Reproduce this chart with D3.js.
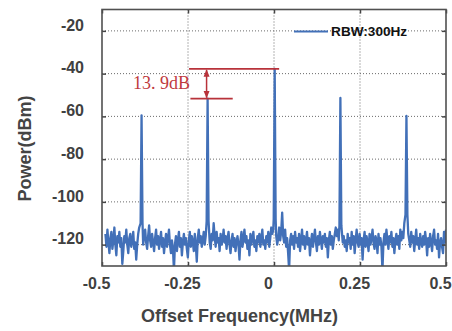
<!DOCTYPE html>
<html>
<head>
<meta charset="utf-8">
<script src="https://cdn.jsdelivr.net/npm/d3@7"></script>
<style>
  body { margin: 0; background: #fff; }
  svg { display: block; }
</style>
</head>
<body>
<div id="graph"></div>
<script>
// spectrum data
var xTicks = [-0.5, -0.25, 0, 0.25, 0.5];
var xTickLabels = ["-0.5", "-0.25", "0", "0.25", "0.5"];
var yTicks = [-20, -40, -60, -80, -100, -120];
var yTickLabels = ["-20", "-40", "-60", "-80", "-100", "-120"];

// noise floor samples, evenly spaced from noiseStart to noiseEnd (MHz)
var noiseStart = -0.49;
var noiseEnd = 0.5;
var noiseLevel = [
  -115, -121, -113, -119, -124, -117, -114, -122, -118, -112, -120, -125, -116, -119, -114, -121, -117, -129, -123, -116,
  -119, -113, -120, -124, -117, -115, -121, -118, -114, -122, -119, -127, -120, -115, -112, -118, -114, -117, -120, -116,
  -113, -119, -122, -116, -111, -118, -121, -115, -119, -123, -117, -113, -120, -116, -122, -118, -114, -121, -117, -124,
  -119, -115, -121, -117, -113, -120, -124, -118, -122, -132, -120, -116, -123, -118, -114, -121, -117, -125, -119, -115,
  -120, -117, -122, -126, -118, -114, -121, -116, -119, -123, -115, -120, -128, -117, -113, -119, -116, -121, -118, -114,
  -120, -116, -112, -117, -113, -119, -122, -115, -118, -110, -116, -121, -114, -119, -117, -123, -115, -120, -118, -113,
  -119, -116, -122, -117, -114, -120, -124, -118, -115, -121, -117, -123, -119, -116, -120, -127, -118, -114, -121, -117,
  -113, -119, -116, -122, -118, -125, -115, -120, -117, -114, -121, -118, -123, -116, -119, -115, -121, -117, -113, -120,
  -118, -122, -116, -119, -114, -121, -117, -112, -115, -113, -114, -118, -116, -120, -117, -112, -118, -114, -105, -116,
  -119, -113, -121, -117, -124, -132, -118, -115, -120, -116, -122, -114, -119, -117, -121, -115, -123, -118, -113, -120,
  -116, -122, -118, -114, -120, -117, -125, -119, -115, -121, -117, -113, -119, -123, -116, -120, -114, -118, -122, -116,
  -119, -115, -121, -117, -126, -118, -114, -120, -116, -122, -118, -115, -112, -116, -113, -118, -114, -117, -112, -119,
  -116, -121, -118, -123, -115, -119, -117, -122, -114, -120, -116, -124, -118, -113, -119, -121, -115, -120, -117, -127,
  -118, -114, -121, -116, -119, -123, -115, -120, -117, -113, -119, -122, -116, -118, -124, -115, -120, -117, -121, -132,
  -119, -115, -120, -113, -118, -122, -116, -119, -114, -121, -117, -124, -118, -115, -120, -116, -122, -113, -118, -114,
  -117, -110, -107, -112, -109, -115, -118, -121, -114, -119, -116, -123, -118, -113, -120, -117, -122, -115, -119, -121,
  -116, -120, -114, -118, -125, -117, -121, -115, -119, -123, -116, -113, -120, -118, -122, -115, -126, -119, -117, -121,
  -124, -114, -119, -113
];

// carrier and sidebands
var peakFreq = [-0.385, -0.193, 0.002, 0.193, 0.385];
var peakLevel = [-59.5, -51.7, -37.8, -51.4, -59.8];
var peakFoot = [-110, -109, -108, -111, -106];

var legendLabel = "RBW:300Hz";
var deltaLabel = "13. 9dB";

var width = 452, height = 331;
var margin = {top: 9.5, right: 6, bottom: 65, left: 102};
var plotW = width - margin.left - margin.right;
var plotH = height - margin.top - margin.bottom;

var x = d3.scaleLinear().domain([-0.5, 0.5]).range([0, plotW]);
var y = d3.scaleLinear().domain([-130, -10]).range([plotH, 0]);

// build the trace: noise samples plus the five spikes
var step = (noiseEnd - noiseStart) / (noiseLevel.length - 1);
var trace = [];
noiseLevel.forEach(function(v, i) {
  var f = noiseStart + i * step;
  var near = peakFreq.some(function(p) { return Math.abs(p - f) < 0.004; });
  if (!near) trace.push({f: f, v: v});
});
peakFreq.forEach(function(p, i) {
  trace.push({f: p - 0.0028, v: peakFoot[i]});
  trace.push({f: p, v: peakLevel[i]});
  trace.push({f: p + 0.0028, v: peakFoot[i]});
});
trace.sort(function(a, b) { return a.f - b.f; });

var svg = d3.select("#graph").append("svg")
  .attr("width", width)
  .attr("height", height);

var g = svg.append("g")
  .attr("transform", "translate(" + margin.left + "," + margin.top + ")");

g.append("clipPath").attr("id", "clip")
  .append("rect").attr("width", plotW).attr("height", plotH);

// grid
g.selectAll(".ygrid").data(yTicks).enter().append("line")
  .attr("x1", 0).attr("x2", plotW)
  .attr("y1", function(d) { return y(d); })
  .attr("y2", function(d) { return y(d); })
  .attr("stroke", "#6a6a6a").attr("stroke-width", 1)
  .attr("stroke-dasharray", "1,2");

g.selectAll(".xgrid").data(xTicks.slice(1, -1)).enter().append("line")
  .attr("y1", 0).attr("y2", plotH)
  .attr("x1", function(d) { return x(d); })
  .attr("x2", function(d) { return x(d); })
  .attr("stroke", "#6a6a6a").attr("stroke-width", 1)
  .attr("stroke-dasharray", "1,2");

// trace
var line = d3.line()
  .x(function(d) { return x(d.f); })
  .y(function(d) { return y(d.v); });

g.append("path")
  .datum(trace)
  .attr("clip-path", "url(#clip)")
  .attr("fill", "none")
  .attr("stroke", "#4270b8")
  .attr("stroke-width", 2.3)
  .attr("stroke-linejoin", "round")
  .attr("d", line);

// axes (ticks inward on all four sides)
var tickStyle = function(sel) {
  sel.select(".domain").remove();
  sel.selectAll(".tick line").attr("stroke", "#444").attr("stroke-width", 1.5);
};

g.append("g")
  .call(d3.axisLeft(y).tickValues(yTicks).tickSize(-4).tickFormat(function(d, i) { return yTickLabels[i]; }))
  .call(tickStyle)
  .selectAll("text")
  .attr("x", -18).attr("dy", "-0.05em")
  .style("font-family", "Arial, 'Liberation Sans', sans-serif")
  .style("font-size", "16px").style("font-weight", "bold").style("fill", "#404040");

g.append("g")
  .attr("transform", "translate(" + plotW + ",0)")
  .call(d3.axisRight(y).tickValues(yTicks).tickSize(-4).tickFormat(""))
  .call(tickStyle);

g.append("g")
  .attr("transform", "translate(0," + plotH + ")")
  .call(d3.axisBottom(x).tickValues(xTicks).tickSize(-4).tickFormat(function(d, i) { return xTickLabels[i]; }))
  .call(tickStyle)
  .selectAll("text")
  .attr("y", 12).attr("dx", -6).attr("dy", "0.71em")
  .style("font-family", "Arial, 'Liberation Sans', sans-serif")
  .style("font-size", "16px").style("font-weight", "bold").style("fill", "#404040");

g.append("g")
  .call(d3.axisTop(x).tickValues(xTicks).tickSize(-4).tickFormat(""))
  .call(tickStyle);

// frame
g.append("rect")
  .attr("width", plotW).attr("height", plotH)
  .attr("fill", "none").attr("stroke", "#505050").attr("stroke-width", 1.6);

// axis titles
svg.append("text")
  .attr("transform", "translate(31," + (margin.top + y(-75)) + ") rotate(-90)")
  .attr("text-anchor", "middle")
  .style("font-family", "Arial, 'Liberation Sans', sans-serif")
  .style("font-size", "18px").style("font-weight", "bold").style("fill", "#444")
  .text("Power(dBm)");

svg.append("text")
  .attr("x", margin.left + x(-0.1))
  .attr("y", 322)
  .attr("text-anchor", "middle")
  .style("font-family", "Arial, 'Liberation Sans', sans-serif")
  .style("font-size", "18px").style("font-weight", "bold").style("fill", "#444")
  .text("Offset Frequency(MHz)");

// legend
g.append("line")
  .attr("x1", x(0.058)).attr("x2", x(0.157))
  .attr("y1", y(-20.3)).attr("y2", y(-20.3))
  .attr("stroke", "#4270b8").attr("stroke-width", 2.2);

g.append("text")
  .attr("x", x(0.166)).attr("y", y(-20.3))
  .attr("dy", "0.35em")
  .style("font-family", "Arial, 'Liberation Sans', sans-serif")
  .style("font-size", "13.6px").style("font-weight", "bold").style("fill", "#111")
  .text(legendLabel);

// 13.9 dB annotation between the carrier and the first sideband
var red = "#b8323a";
var arrowX = x(peakFreq[1] - 0.003);

g.append("line")
  .attr("x1", x(-0.247)).attr("x2", x(0.015))
  .attr("y1", y(peakLevel[2])).attr("y2", y(peakLevel[2]))
  .attr("stroke", red).attr("stroke-width", 1.8);

g.append("line")
  .attr("x1", x(-0.243)).attr("x2", x(-0.12))
  .attr("y1", y(peakLevel[1])).attr("y2", y(peakLevel[1]))
  .attr("stroke", red).attr("stroke-width", 1.8);

svg.append("defs").append("marker")
  .attr("id", "arrow")
  .attr("viewBox", "0 0 10 10")
  .attr("refX", 9).attr("refY", 5)
  .attr("markerWidth", 5).attr("markerHeight", 5)
  .attr("orient", "auto-start-reverse")
  .append("path")
  .attr("d", "M0,1 L10,5 L0,9 z")
  .attr("fill", red);

g.append("line")
  .attr("x1", arrowX).attr("x2", arrowX)
  .attr("y1", y(peakLevel[2]) + 1).attr("y2", y(peakLevel[1]) - 1)
  .attr("stroke", red).attr("stroke-width", 1.5)
  .attr("marker-start", "url(#arrow)")
  .attr("marker-end", "url(#arrow)");

g.append("text")
  .attr("x", x(-0.41)).attr("y", y(-47.4))
  .style("font-family", "'Liberation Serif', 'DejaVu Serif', serif")
  .style("font-size", "18px").style("fill", "#c03a3e")
  .text(deltaLabel);
</script>
</body>
</html>
